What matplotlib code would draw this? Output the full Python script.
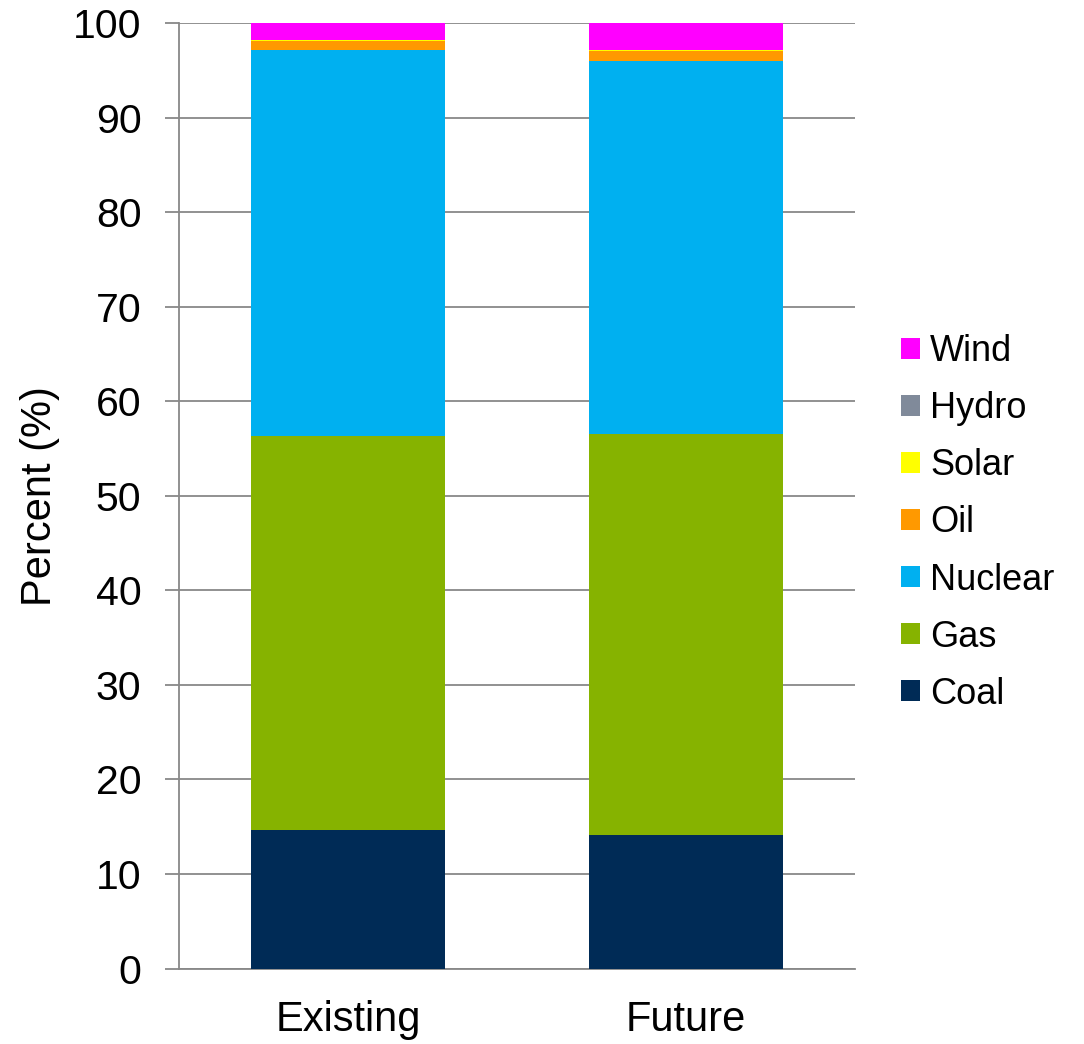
import matplotlib
matplotlib.use("Agg")
import matplotlib.pyplot as plt
import numpy as np

plt.rcParams['font.family'] = ['Liberation Sans', 'DejaVu Sans']

categories = ["Existing", "Future"]
series_names = ["Coal", "Gas", "Nuclear", "Oil", "Solar", "Hydro", "Wind"]
coal = [14.7, 14.1]
gas = [41.65, 42.5]
nuclear = [40.8, 39.45]
oil = [1.0, 1.0]
solar = [0.05, 0.15]
hydro = [0.0, 0.0]
wind = [1.8, 2.8]
yticks = [0, 10, 20, 30, 40, 50, 60, 70, 80, 90, 100]

colors = ["#002B56", "#86B300", "#00B0F0", "#FF9900", "#FFFF00", "#808A9A", "#FF00FF"]
series = [coal, gas, nuclear, oil, solar, hydro, wind]

fig = plt.figure(figsize=(10.84, 10.44), dpi=100)
ax = fig.add_axes([179/1084, 1 - 968.5/1044, (855-179)/1084, (968.5-23.3)/1044])

x = np.arange(len(categories))
bottom = np.zeros(len(categories))
handles = []
for name, vals, c in zip(series_names, series, colors):
    vals = np.array(vals)
    h = ax.bar(x, vals, width=0.575, bottom=bottom, color=c, label=name, linewidth=0, zorder=3)
    handles.append(h)
    bottom += vals

ax.set_xlim(-0.5, 1.5)
ax.set_ylim(0, 100)
ax.set_yticks(yticks)
ax.set_xticks(x)
ax.set_xticklabels(categories, fontsize=30)
ax.tick_params(axis='x', length=0, pad=23)
ax.tick_params(axis='y', labelsize=29.5, length=10, width=1.3, color='#888888', pad=17, direction='out')
ax.yaxis.grid(True, color='#888888', linewidth=1.3, zorder=0)
ax.set_axisbelow(True)
for s in ['top', 'right']:
    ax.spines[s].set_visible(False)
ax.spines['left'].set_color('#888888')
ax.spines['left'].set_linewidth(1.3)
ax.spines['bottom'].set_color('#888888')
ax.spines['bottom'].set_linewidth(1.3)
ax.set_ylabel("Percent (%)", fontsize=30, labelpad=9)

leg = fig.legend(handles[::-1], series_names[::-1], loc='center left',
                 bbox_to_anchor=(901/1084, 1 - 523/1044), frameon=False,
                 fontsize=26, handlelength=0.53, handleheight=0.53,
                 handletextpad=0.28, labelspacing=0.61, borderpad=0, borderaxespad=0)

fig.savefig("out.png", dpi=100)
